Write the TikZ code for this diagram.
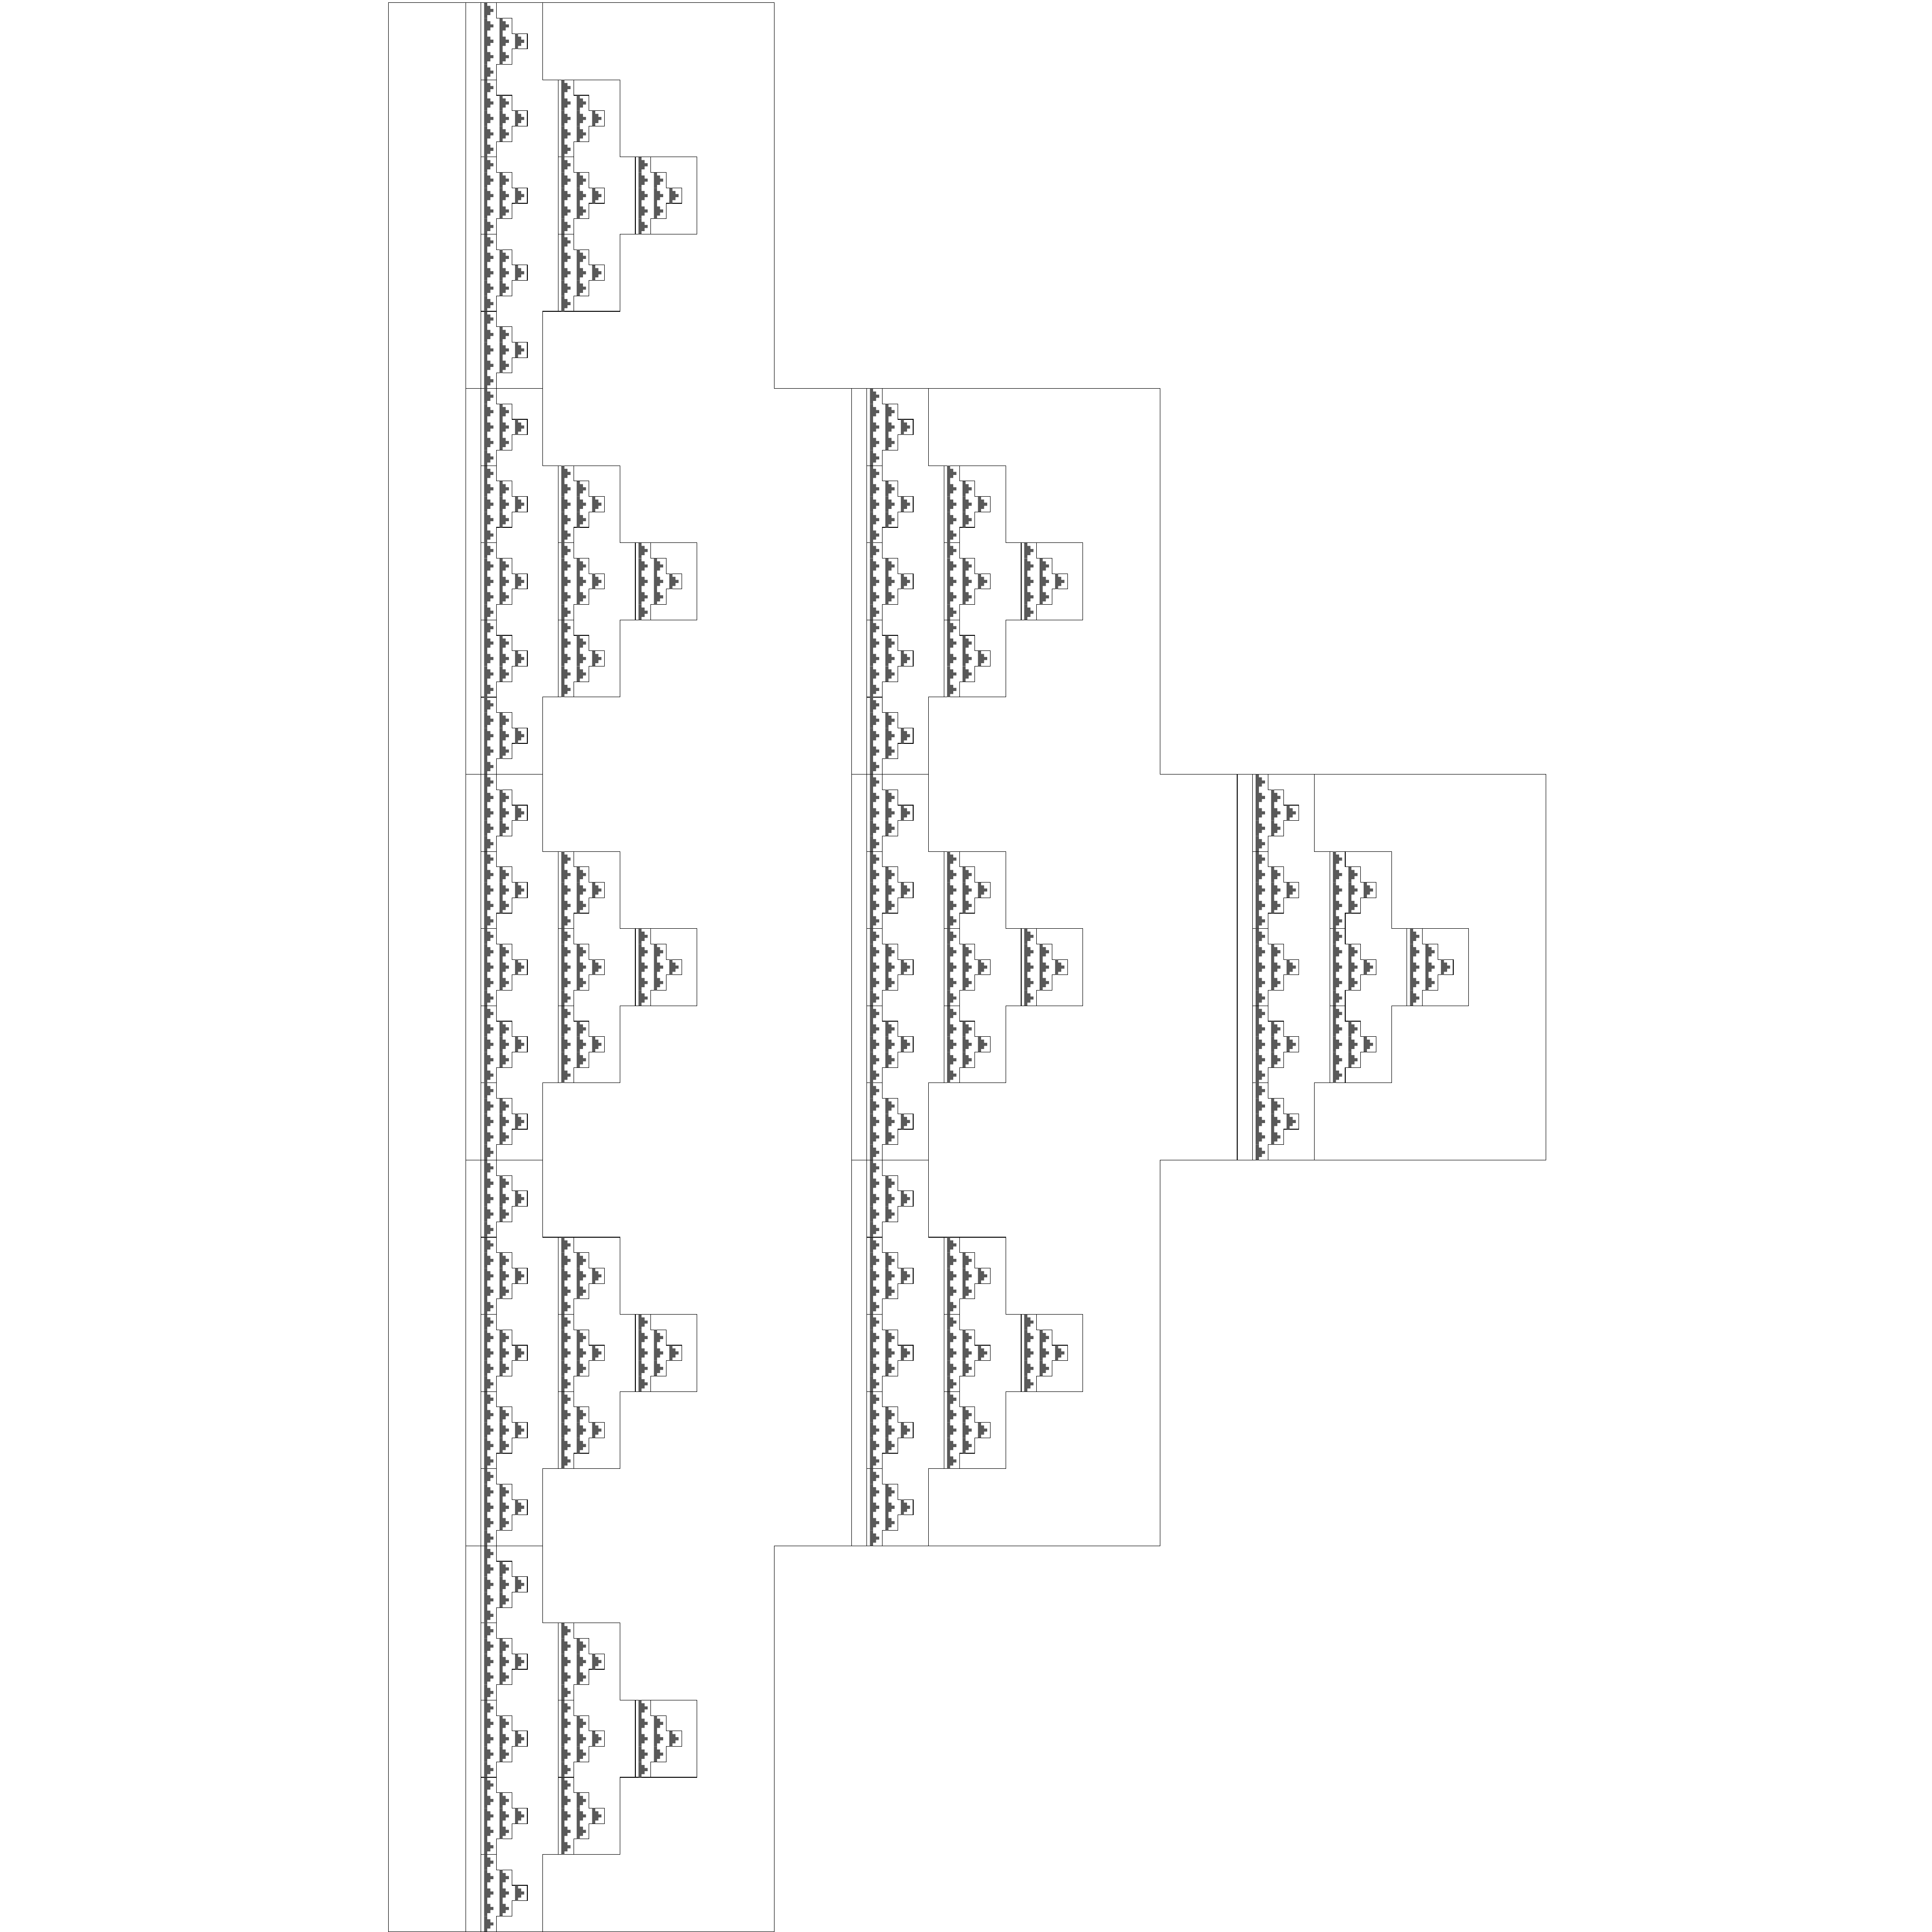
\documentclass[tikz,border=0pt]{standalone}
\usepackage{tikz}
\tikzset{
  stairline/.style={draw=black, line width=0.08pt, line join=miter},
  stairtip/.style={fill=black!65},
}
% stair outline at (#1,#2), cell size #3, depth #4
\newcommand{\drawstair}[4]{%
  \ifnum#4>0 \def\stairstyle{stairline}\else \def\stairstyle{stairtip}\fi
  \path[\stairstyle] (#1,#2) -- ++(#3,0) -- ++(0,#3) -- ++(#3,0) -- ++(0,#3) -- ++(#3,0) -- ++(0,#3)
    -- ++(-#3,0) -- ++(0,#3) -- ++(-#3,0) -- ++(0,#3) -- ++(-#3,0) -- cycle;
  \ifnum#4>0
    \foreach \ci/\cj in {0/0,0/1,0/2,0/3,0/4,1/1,1/2,1/3,2/2}{
      \pgfmathsetmacro\subx{#1+(\ci+0.2)*#3}
      \pgfmathsetmacro\suby{#2+\cj*#3}
      \pgfmathsetmacro\subs{#3/5}
      \pgfmathtruncatemacro\subd{#4-1}
      \edef\nextstair{\noexpand\drawstair{\subx}{\suby}{\subs}{\subd}}
      \nextstair
    }
  \fi
}
\begin{document}
\begin{tikzpicture}[x=2cm,y=2cm]
\useasboundingbox (-1.007,-0.001) rectangle (4.001,5.007);
\drawstair{0}{0}{1}{3}
\end{tikzpicture}
\end{document}
